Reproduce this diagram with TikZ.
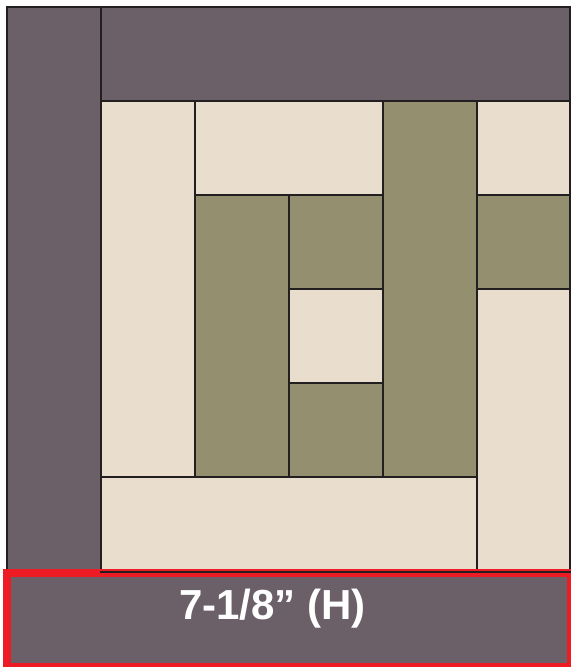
\documentclass[tikz,border=0pt]{standalone}
\usepackage{fontspec}
\setmainfont{Liberation Sans}
\begin{document}
\begin{tikzpicture}[x=1pt,y=-1pt,
  patch/.style={draw=lineblack,line width=2.4pt,line join=miter},
  plum/.style={patch,fill=plumgrey},
  creamp/.style={patch,fill=cream},
  greenp/.style={patch,fill=olive}]
\definecolor{plumgrey}{HTML}{6C6068}
\definecolor{cream}{HTML}{E9DDCD}
\definecolor{olive}{HTML}{948F6F}
\definecolor{lineblack}{HTML}{231F20}
\definecolor{redframe}{HTML}{ED1C24}
\useasboundingbox (0,0) rectangle (571,667);
% border strips
\path[plum] (7,7) rectangle (101,575);
\path[plum] (101,7) rectangle (570,101);
% row 1
\path[creamp] (101,101) rectangle (195,477);
\path[creamp] (195,101) rectangle (383,195);
\path[greenp] (383,101) rectangle (477,477);
\path[creamp] (477,101) rectangle (570,195);
% right column
\path[greenp] (477,195) rectangle (570,289);
\path[creamp] (477,289) rectangle (570,572);
% centre
\path[greenp] (195,195) rectangle (289,477);
\path[greenp] (289,195) rectangle (383,289);
\path[creamp] (289,289) rectangle (383,383);
\path[greenp] (289,383) rectangle (383,477);
% bottom row
\path[creamp] (101,477) rectangle (477,572);
% measurement frame
\fill[redframe] (3,569) rectangle (571,667);
\fill[plumgrey] (11,577) rectangle (567,663);
\draw[lineblack,line width=2.4pt] (99.8,572) -- (571,572);
\fill[redframe] (101,573.2) rectangle (571,577);
\node[anchor=base,text=white,font=\fontsize{42}{42}\selectfont\bfseries,inner sep=0pt] (lbl) at (272.5,619) {7-1/8” (H)};
\end{tikzpicture}
\end{document}
